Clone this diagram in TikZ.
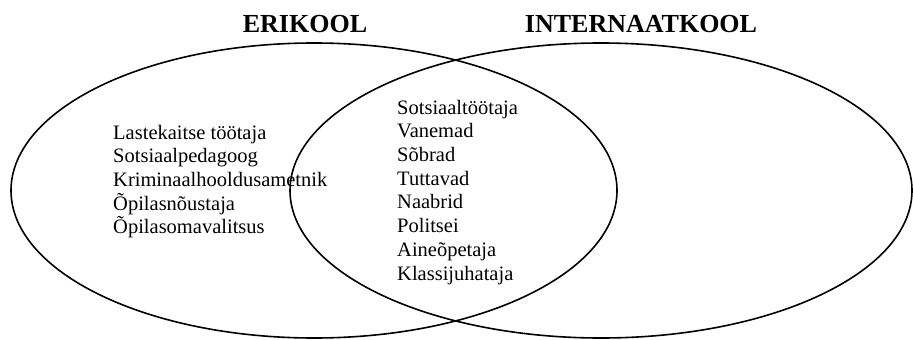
\documentclass[tikz,border=0pt]{standalone}
\usepackage{fontspec}
\setmainfont{Liberation Serif}

\tikzset{
  ring/.style={line width=1.6pt},
  title/.style={font=\fontsize{26}{30}\selectfont\bfseries, anchor=base},
  item/.style={font=\fontsize{20.5}{24}\selectfont, anchor=base west, inner sep=0pt}
}

\begin{document}
\begin{tikzpicture}[x=1pt, y=-1pt]
\useasboundingbox (0,0) rectangle (913,340);

%\draw[help lines] (0,0) grid[step=50] (913,340);

\draw[ring] (314,190.5) ellipse [x radius=303, y radius=147.5];
\draw[ring] (601,190.5) ellipse [x radius=311, y radius=147.5];

\node[title] (erikool) at (305,32) {ERIKOOL};
\node[title] (internaat) at (641,32) {INTERNAATKOOL};

% only in ERIKOOL
\node[item] (lastekaitse) at (113,139) {Lastekaitse töötaja};
\node[item] (sotsped) at (113,162.7) {Sotsiaalpedagoog};
\node[item] (krim) at (113,186.4) {Kriminaalhooldusametnik};
\node[item] (noustaja) at (113,210.1) {Õpilasnõustaja};
\node[item] (omavalitsus) at (113,233.8) {Õpilasomavalitsus};

% shared
\node[item] (sotstoo) at (397,114) {Sotsiaaltöötaja};
\node[item] (vanemad) at (397,137.7) {Vanemad};
\node[item] (sobrad) at (397,161.4) {Sõbrad};
\node[item] (tuttavad) at (397,185.1) {Tuttavad};
\node[item] (naabrid) at (397,208.8) {Naabrid};
\node[item] (politsei) at (397,232.5) {Politsei};
\node[item] (aine) at (397,256.2) {Aineõpetaja};
\node[item] (klassi) at (397,280) {Klassijuhataja};

\end{tikzpicture}
\end{document}
